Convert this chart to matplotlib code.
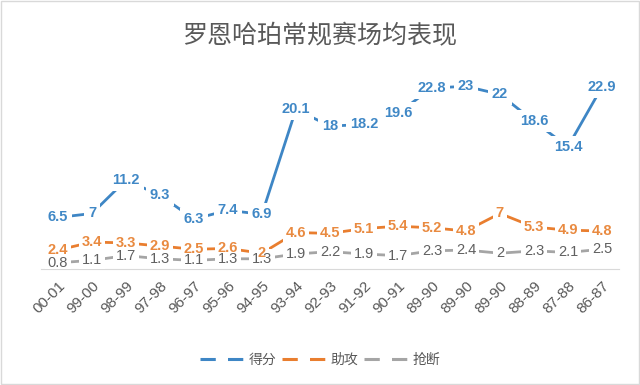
import matplotlib.pyplot as plt
from matplotlib.lines import Line2D
from matplotlib.patches import Rectangle

plt.rcParams['font.family'] = ['Liberation Sans', 'Noto Sans CJK SC', 'DejaVu Sans']

seasons = ['00-01', '99-00', '98-99', '97-98', '96-97', '95-96', '94-95', '93-94', '92-93',
           '91-92', '90-91', '89-90', '89-90', '89-90', '88-89', '87-88', '86-87']
points = [6.5, 7, 11.2, 9.3, 6.3, 7.4, 6.9, 20.1, 18, 18.2, 19.6, 22.8, 23, 22, 18.6, 15.4, 22.9]
assists = [2.4, 3.4, 3.3, 2.9, 2.5, 2.6, 2, 4.6, 4.5, 5.1, 5.4, 5.2, 4.8, 7, 5.3, 4.9, 4.8]
steals = [0.8, 1.1, 1.7, 1.3, 1.1, 1.3, 1.3, 1.9, 2.2, 1.9, 1.7, 2.3, 2.4, 2, 2.3, 2.1, 2.5]
names = ['得分', '助攻', '抢断']

line_colors = ['#3E86C5', '#E97E2F', '#A5A5A5']
text_colors = ['#4088C6', '#E98A40', '#606060']
weights = ['bold', 'bold', 'normal']
pads = [4, 3, 2.5]  # px of white around each label

fig = plt.figure(figsize=(6.4, 3.85), dpi=100)
ax = fig.add_axes([0.064, 0.301, 0.903, 0.516])

x = list(range(len(seasons)))
series = [points, assists, steals]

for s, c in zip(series, line_colors):
    ax.plot(x, s, color=c, linewidth=2, zorder=2, solid_capstyle='butt')

labels = []
for k, (s, c, w) in enumerate(zip(series, text_colors, weights)):
    for xi, v in zip(x, s):
        t = ax.text(xi, v, f'{v:g}', ha='center', va='center', fontsize=10.5,
                    color=c, fontweight=w, zorder=7 - k)
        labels.append((t, pads[k]))

ax.set_xlim(-0.5, len(seasons) - 0.5)
ax.set_ylim(0, 25)
ax.set_yticks([])
ax.set_xticks(x)
ax.set_xticklabels(seasons, rotation=45, ha='right', rotation_mode='anchor',
                   fontsize=11, color='#595959')
ax.tick_params(axis='x', length=0, pad=7)
for sp in ['top', 'right', 'left']:
    ax.spines[sp].set_visible(False)
ax.spines['bottom'].set_color('#D9D9D9')
ax.spines['bottom'].set_zorder(1)

fig.text(0.5, 0.905, '罗恩哈珀常规赛场均表现', ha='center', va='center', fontsize=18,
         color='#595959', family=['Noto Sans CJK SC'], fontweight='light')

handles = [Line2D([0], [0], color=c, linewidth=2.2, linestyle=(0, (5, 4))) for c in line_colors]
fig.legend(handles, names, loc='center', bbox_to_anchor=(0.5, 0.065), ncol=3, frameon=False,
           handlelength=3.2, handletextpad=0.3, columnspacing=0.4,
           labelcolor='#595959', prop={'family': ['Noto Sans CJK SC'], 'size': 10})

# white boxes under the labels hide the lines (like excel's label fill), texts stay on top
fig.canvas.draw()
for t, p in labels:
    bb = t.get_window_extent()
    ax.add_patch(Rectangle((bb.x0 - p, bb.y0 - p), bb.width + 2 * p, bb.height + 2 * p,
                           transform=None, fc='white', ec='none', zorder=4))

fig.patches.append(Rectangle((0.002, 0.002), 0.996, 0.996, transform=fig.transFigure,
                             fill=False, edgecolor='#D9D9D9', linewidth=1))

fig.savefig('out.png', dpi=100, facecolor='white')
